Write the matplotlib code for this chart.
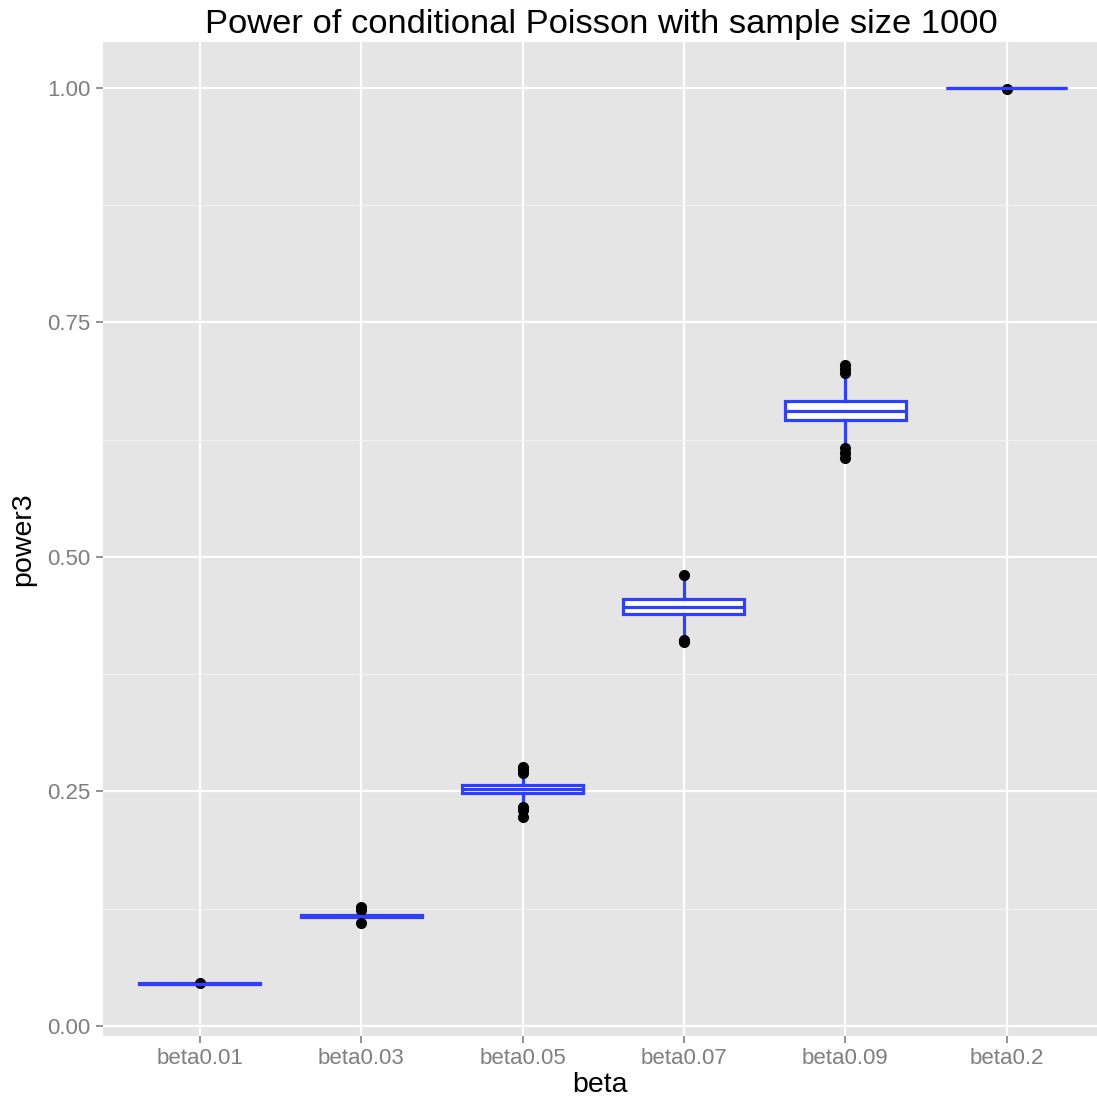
import numpy as np
import matplotlib.pyplot as plt
from matplotlib import rcParams

rcParams['font.family'] = 'sans-serif'
rcParams['font.sans-serif'] = ['Liberation Sans', 'DejaVu Sans']

# box statistics
betas = ['beta0.01', 'beta0.03', 'beta0.05', 'beta0.07', 'beta0.09', 'beta0.2']
q1 = [0.0445, 0.1160, 0.2488, 0.4390, 0.6465, 0.9995]
med = [0.0450, 0.1170, 0.2530, 0.4470, 0.6560, 1.0000]
q3 = [0.0455, 0.1180, 0.2572, 0.4550, 0.6660, 1.0000]
whislo = [0.0440, 0.1140, 0.2380, 0.4150, 0.6210, 0.9990]
whishi = [0.0460, 0.1200, 0.2680, 0.4780, 0.6910, 1.0000]
fliers = [
    [0.0462],
    [0.1270, 0.1240, 0.1100],
    [0.2760, 0.2730, 0.2700, 0.2330, 0.2300, 0.2230],
    [0.4810, 0.4110, 0.4090],
    [0.7050, 0.7000, 0.6960, 0.6160, 0.6110, 0.6060],
    [0.9990],
]

stats = []
for i in range(len(betas)):
    stats.append(dict(label=betas[i], q1=q1[i], med=med[i], q3=q3[i],
                      whislo=whislo[i], whishi=whishi[i], fliers=fliers[i]))

blue = '#2F3FFF'
lw = 2.3
fig = plt.figure(figsize=(10.97, 11.02), dpi=100)
ax = fig.add_axes([103/1097, 66/1102, 1 - 103/1097, (1036-42)/1102])
ax.set_facecolor('#E5E5E5')

pos = np.arange(len(betas))
ax.bxp(stats, positions=pos, widths=0.75, patch_artist=True, showcaps=False,
       boxprops=dict(facecolor='white', edgecolor=blue, linewidth=lw),
       medianprops=dict(color=blue, linewidth=lw),
       whiskerprops=dict(color=blue, linewidth=lw),
       flierprops=dict(marker='o', markerfacecolor='black', markeredgecolor='black',
                       markersize=7, linestyle='none'),
       zorder=3)

ax.set_xlim(-0.6, 5.56)
ax.set_ylim(-0.0107, 1.049)
ax.set_xticks(pos)
ax.set_xticklabels(betas)
ax.set_yticks([0, 0.25, 0.5, 0.75, 1.0])
ax.set_yticklabels(['0.00', '0.25', '0.50', '0.75', '1.00'])
ax.set_yticks([0.125, 0.375, 0.625, 0.875], minor=True)

ax.grid(which='major', color='white', linewidth=1.6, zorder=0)
ax.grid(which='minor', axis='y', color='#F2F2F2', linewidth=0.8, zorder=0)
ax.set_axisbelow(True)
for s in ax.spines.values():
    s.set_visible(False)

ax.tick_params(axis='both', which='major', length=5, width=1.2, color='#7F7F7F',
               labelcolor='#7F7F7F', labelsize=16, pad=4)
ax.tick_params(axis='both', which='minor', length=0)

ax.set_xlabel('beta', fontsize=20.5, labelpad=2)
ax.set_ylabel('power3', fontsize=20.5, labelpad=8)
fig.text(0.5485, 1 - 24/1102, 'Power of conditional Poisson with sample size 1000',
         ha='center', va='center', fontsize=24.8)

fig.savefig('out.png', dpi=100)
